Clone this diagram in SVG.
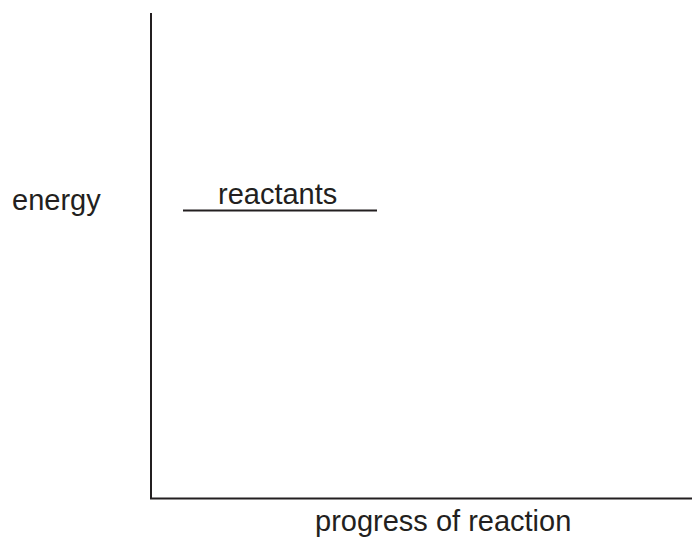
<svg xmlns="http://www.w3.org/2000/svg" width="694" height="539" viewBox="0 0 694 539">
<style>
text{font-family:"Liberation Sans",Arial,sans-serif;font-size:29px;fill:#231f20}
.ax{stroke:#231f20;stroke-width:2;fill:none}
</style>
<rect width="694" height="539" fill="#fff"/>
<g id="axes">
<path class="ax" d="M151,13 V498.5 H692"/>
</g>
<g id="reactants">
<line class="ax" x1="183" y1="210.5" x2="377" y2="210.5"/>
<text x="218" y="204">reactants</text>
</g>
<g id="energy-label"><text x="12" y="210">energy</text></g>
<g id="x-label"><text x="315" y="531">progress of reaction</text></g>
</svg>
